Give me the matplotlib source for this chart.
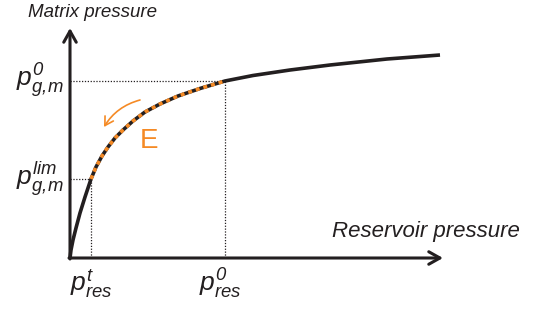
import numpy as np
import matplotlib
matplotlib.use("Agg")
import matplotlib.pyplot as plt

# schematic curve: matrix pressure vs reservoir pressure (arbitrary units)
res_p = [0.0, 0.1, 0.3, 0.6, 1.0, 1.5, 2.1, 2.6, 3.2, 3.8, 4.5, 5.3, 6.3, 7.5,
         9.0, 10.8, 13.0, 15.5, 18.3, 22.0, 26.0, 31.7, 37.0]
mat_p = [0.0, 0.8, 1.8, 3.0, 4.5, 6.1, 7.9, 9.1, 10.2, 11.1, 12.0, 12.8, 13.7, 14.6,
         15.4, 16.2, 16.95, 17.7, 18.25, 18.8, 19.3, 19.9, 20.3]

# characteristic pressures
p_res_t = 2.1
p_gm_lim = 7.9
p_res_0 = 15.5
p_gm_0 = 17.7

orange = "#F58A25"
ink = "#231f20"

plt.rcParams["font.family"] = ["Liberation Sans", "DejaVu Sans"]
plt.rcParams["mathtext.fontset"] = "custom"
plt.rcParams["mathtext.it"] = "Liberation Sans:italic"
plt.rcParams["mathtext.rm"] = "Liberation Sans:italic"
plt.rcParams["mathtext.sf"] = "Liberation Sans:italic"

fig = plt.figure(figsize=(5.38, 3.13), dpi=100)
ax = fig.add_axes([0, 0, 1, 1])
ax.set_xlim(-7.0, 46.8)
ax.set_ylim(-5.5, 25.8)
ax.axis("off")

# axes drawn as arrows
arrow_kw = dict(arrowstyle="->,head_length=0.8,head_width=0.45", lw=2.2,
                color=ink, shrinkA=0, shrinkB=0)
ax.annotate("", xy=(0, 23.0), xytext=(0, -0.1), arrowprops=arrow_kw)
ax.annotate("", xy=(37.3, 0), xytext=(-0.1, 0), arrowprops=arrow_kw)

# dotted guide lines
dot_kw = dict(color=ink, lw=0.9, linestyle=(0, (1, 1.3)))
ax.plot([0, p_res_0], [p_gm_0, p_gm_0], **dot_kw)
ax.plot([p_res_0, p_res_0], [0, p_gm_0], **dot_kw)
ax.plot([0, p_res_t], [p_gm_lim, p_gm_lim], **dot_kw)
ax.plot([p_res_t, p_res_t], [0, p_gm_lim], **dot_kw)

# main curve
ax.plot(res_p, mat_p, color=ink, lw=2.6, solid_capstyle="butt",
        solid_joinstyle="round")

# orange dashed overlay between p_lim and p0
seg = [(x, y) for x, y in zip(res_p, mat_p) if p_res_t <= x <= p_res_0]
sx, sy = zip(*seg)
ax.plot(sx, sy, color=orange, lw=2.6, dashes=(1.1, 1.1), dash_capstyle="butt")

# curved arrow along the curve
ax.annotate("", xy=(3.4, 13.1), xytext=(7.0, 15.8),
            arrowprops=dict(arrowstyle="->,head_length=0.6,head_width=0.35",
                            color=orange, lw=1.2, shrinkA=0, shrinkB=0,
                            connectionstyle="arc3,rad=0.2"))
ax.text(7.95, 11.7, "E", color=orange, fontsize=20, ha="center", va="center")

# axis titles
ax.text(-4.2, 24.1, "Matrix pressure", fontsize=13.5, style="italic",
        ha="left", va="baseline", color=ink)
ax.text(45.0, 2.1, "Reservoir pressure", fontsize=16, style="italic",
        ha="right", va="baseline", color=ink)

# tick labels
lab_kw = dict(fontsize=19, color=ink)
ax.text(-0.6, p_gm_0, r"$p^{0}_{g,\!m}$", ha="right", va="center", **lab_kw)
ax.text(-0.6, p_gm_lim, r"$p^{lim}_{g,\!m}$", ha="right", va="center", **lab_kw)
ax.text(p_res_t, -0.9, r"$p^{t}_{res}$", ha="center", va="top", **lab_kw)
ax.text(p_res_0 - 0.5, -0.9, r"$p^{0}_{res}$", ha="center", va="top", **lab_kw)

fig.savefig("out.png", dpi=100)
